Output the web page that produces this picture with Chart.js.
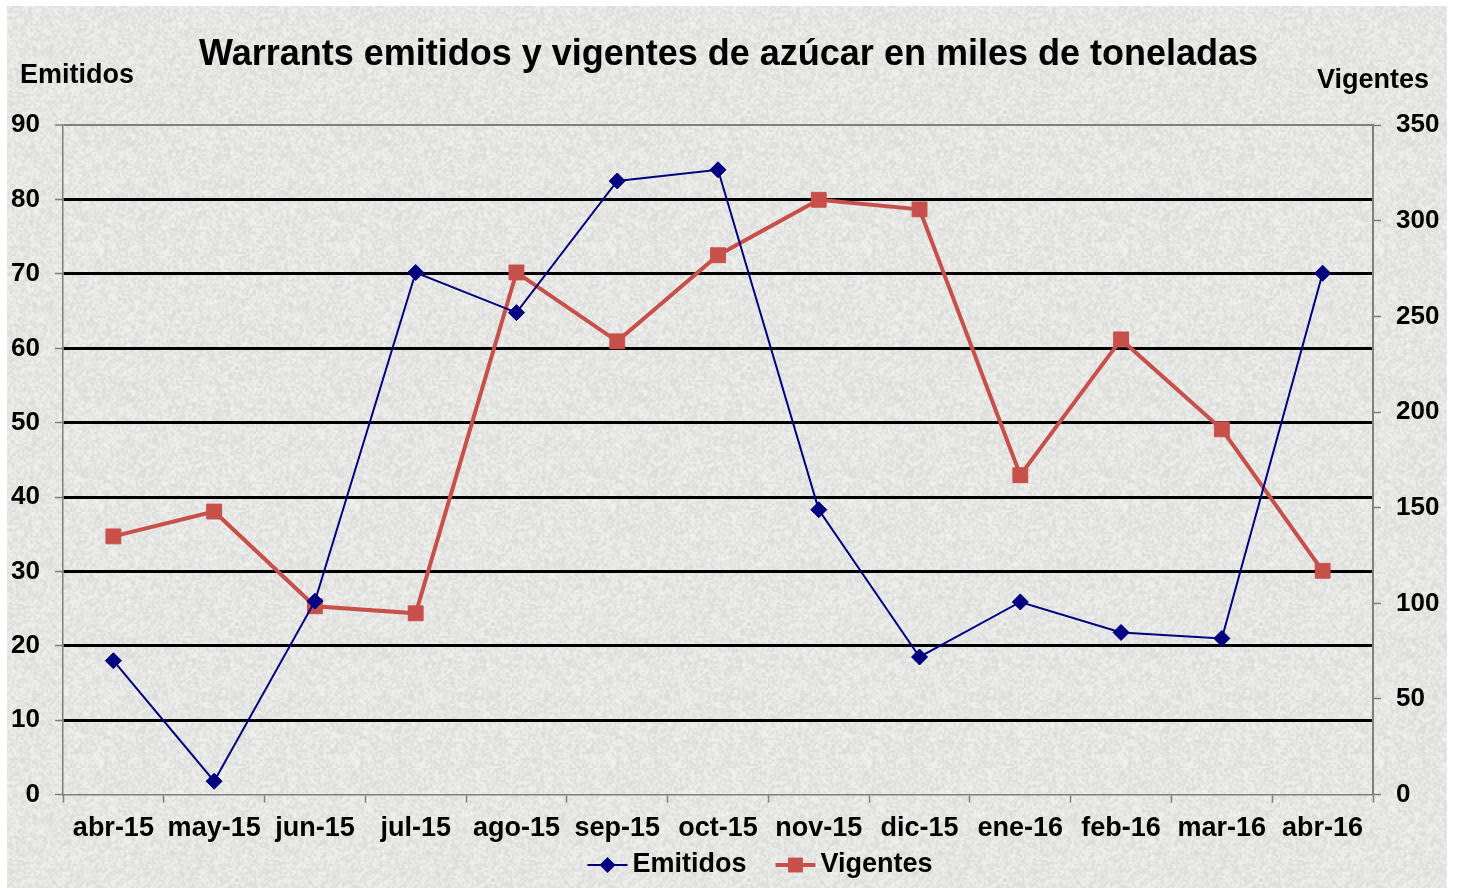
<!DOCTYPE html>
<html>
<head>
<meta charset="utf-8">
<script src="https://cdn.jsdelivr.net/npm/chart.js@4/dist/chart.umd.min.js"></script>
<style>
  html, body { margin: 0; padding: 0; background: #ffffff; }
  #wrap { position: absolute; left: 0; top: 0; width: 1457px; height: 888px; }
</style>
</head>
<body>
<div id="wrap"><canvas id="c" width="1457" height="888"></canvas></div>
<script>
// ---- data ----
const categories = ['abr-15','may-15','jun-15','jul-15','ago-15','sep-15','oct-15','nov-15','dic-15','ene-16','feb-16','mar-16','abr-16'];
const emitidos = [18, 1.8, 26, 70.2, 64.8, 82.5, 84, 38.3, 18.5, 25.9, 21.8, 21, 70.1];
const vigentes = [135, 148, 98.5, 94.8, 273, 237, 282, 311, 306, 167, 238, 191, 117];
const leftAxisRange = [0, 90, 10];
const rightAxisRange = [0, 350, 50];
const titleText = 'Warrants emitidos y vigentes de azúcar en miles de toneladas';
const leftAxisTitle = 'Emitidos';
const rightAxisTitle = 'Vigentes';

// ---- texture ----
function makeTexture() {
  const n = 128;
  const small = document.createElement('canvas');
  small.width = n; small.height = n;
  const sctx = small.getContext('2d');
  const img = sctx.createImageData(n, n);
  let s = 12345;
  function nxt() { s = (Math.imul(s, 1103515245) + 12345) >>> 0; return (s >>> 8) / 16777216; }
  for (let i = 0; i < n * n; i++) {
    const v = 229 + (nxt() - 0.5) * 26;
    img.data[i*4] = v + 1; img.data[i*4+1] = v + 1; img.data[i*4+2] = v - 1; img.data[i*4+3] = 255;
  }
  sctx.putImageData(img, 0, 0);
  const big = document.createElement('canvas');
  big.width = n * 2; big.height = n * 2;
  const bctx = big.getContext('2d');
  bctx.imageSmoothingEnabled = true;
  bctx.drawImage(small, 0, 0, n * 2, n * 2);
  return big;
}
const tex = makeTexture();

const FONT = "'Liberation Sans', Arial, sans-serif";

const bgPlugin = {
  id: 'bg',
  beforeDraw(chart) {
    const ctx = chart.ctx;
    ctx.save();
    ctx.fillStyle = '#ffffff';
    ctx.fillRect(0, 0, chart.width, chart.height);
    ctx.fillStyle = ctx.createPattern(tex, 'repeat');
    ctx.fillRect(7, 6, 1440, 882);
    ctx.restore();
  },
  afterDraw(chart) {
    const ctx = chart.ctx;
    ctx.save();
    ctx.fillStyle = '#000';
    ctx.font = 'bold 27px ' + FONT;
    ctx.textBaseline = 'middle';
    ctx.textAlign = 'left';
    ctx.fillText(leftAxisTitle, 20, 76);
    ctx.textAlign = 'right';
    ctx.fillText(rightAxisTitle, 1429, 81);
    // legend
    const y = 865;
    const lineLen = 40, gap = 5, spacing = 29;
    const items = chart.data.datasets.map(ds => ({ds, w: 0}));
    ctx.font = 'bold 27px ' + FONT;
    let total = 0;
    items.forEach((it, i) => { it.w = ctx.measureText(it.ds.label).width; total += lineLen + gap + it.w + (i ? spacing : 0); });
    let x = 760 - total / 2;
    items.forEach((it, i) => {
      if (i) x += spacing;
      ctx.strokeStyle = it.ds.borderColor;
      ctx.lineWidth = it.ds.borderWidth;
      ctx.beginPath(); ctx.moveTo(x, y); ctx.lineTo(x + lineLen, y); ctx.stroke();
      ctx.fillStyle = it.ds.pointBackgroundColor;
      ctx.strokeStyle = it.ds.pointBorderColor;
      ctx.lineWidth = 1;
      Chart.helpers.drawPoint(ctx, {pointStyle: it.ds.pointStyle, radius: it.ds.pointRadius, rotation: 0}, x + lineLen / 2, y);
      ctx.fillStyle = '#000';
      ctx.textAlign = 'left';
      ctx.fillText(it.ds.label, x + lineLen + gap, y);
      x += lineLen + gap + it.w;
    });
    ctx.restore();
  }
};

const gray = '#7f7f7f';

new Chart(document.getElementById('c'), {
  type: 'line',
  data: {
    labels: categories,
    datasets: [
      {
        label: 'Emitidos', data: emitidos, yAxisID: 'y',
        borderColor: '#000080', borderWidth: 2,
        pointStyle: 'rectRot', pointRadius: 8, pointHoverRadius: 8,
        pointBackgroundColor: '#000080', pointBorderColor: '#000080', pointBorderWidth: 1,
        tension: 0, order: 1
      },
      {
        label: 'Vigentes', data: vigentes, yAxisID: 'y1',
        borderColor: '#c8504b', borderWidth: 4,
        pointStyle: 'rect', pointRadius: 10.5, pointHoverRadius: 10.5,
        pointBackgroundColor: '#c8504b', pointBorderColor: '#c8504b', pointBorderWidth: 1,
        tension: 0, order: 2
      }
    ]
  },
  options: {
    responsive: false,
    animation: false,
    devicePixelRatio: 1,
    layout: { padding: { left: 0, right: 0, top: 0, bottom: 33 } },
    plugins: {
      legend: { display: false },
      tooltip: { enabled: false },
      title: {
        display: true, text: titleText, color: '#000',
        font: { family: FONT, size: 36, weight: 'bold' },
        padding: { top: 33, bottom: 49 }
      }
    },
    scales: {
      x: {
        offset: true,
        grid: { offset: true, drawOnChartArea: false, tickColor: gray, tickLength: 8, tickWidth: 1.5 },
        border: { color: gray, width: 1.5 },
        ticks: { color: '#000', font: { family: FONT, size: 27, weight: 'bold' }, padding: 10, maxRotation: 0, autoSkip: false }
      },
      y: {
        position: 'left', min: leftAxisRange[0], max: leftAxisRange[1],
        ticks: { stepSize: leftAxisRange[2], color: '#000', font: { family: FONT, size: 26, weight: 'bold' }, padding: 15 },
        grid: {
          color: c => c.tick.value === leftAxisRange[1] ? gray : (c.tick.value === 0 ? 'rgba(0,0,0,0)' : '#000'),
          lineWidth: c => c.tick.value === leftAxisRange[1] ? 2 : 3,
          tickColor: gray, tickLength: 8, tickWidth: 1.5
        },
        border: { color: gray, width: 1.5 },
        afterFit: s => { s.width = 63; }
      },
      y1: {
        position: 'right', min: rightAxisRange[0], max: rightAxisRange[1],
        ticks: { stepSize: rightAxisRange[2], color: '#000', font: { family: FONT, size: 26, weight: 'bold' }, padding: 15 },
        grid: { drawOnChartArea: false, tickColor: gray, tickLength: 8, tickWidth: 1.5 },
        border: { color: gray, width: 2 },
        afterFit: s => { s.width = 84; }
      }
    }
  },
  plugins: [bgPlugin]
});
</script>
</body>
</html>
